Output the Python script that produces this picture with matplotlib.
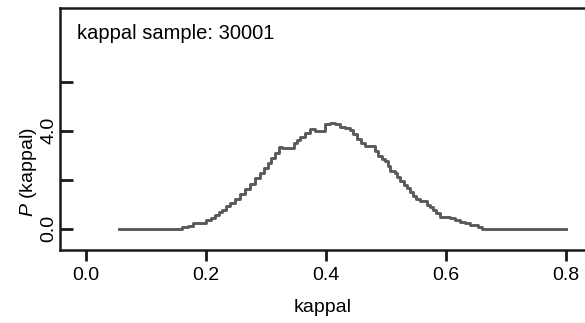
import matplotlib
matplotlib.use("Agg")
import matplotlib.pyplot as plt

plt.rcParams['font.family'] = ['Liberation Sans', 'DejaVu Sans']
plt.rcParams['mathtext.fontset'] = 'custom'
plt.rcParams['mathtext.it'] = 'Liberation Sans:italic'
plt.rcParams['mathtext.rm'] = 'Liberation Sans'

# posterior sample histogram (step outline)
kappa = [0.055, 0.100, 0.158, 0.160, 0.170, 0.178, 0.190, 0.200, 0.208, 0.215,
         0.222, 0.227, 0.234, 0.240, 0.248, 0.257, 0.265, 0.273, 0.282, 0.290,
         0.297, 0.303, 0.309, 0.315, 0.322, 0.327, 0.333, 0.340, 0.347, 0.352,
         0.357, 0.365, 0.373, 0.382, 0.390, 0.398, 0.407, 0.415, 0.423, 0.432,
         0.440, 0.446, 0.452, 0.458, 0.465, 0.477, 0.482, 0.487, 0.493, 0.498,
         0.503, 0.507, 0.515, 0.519, 0.523, 0.530, 0.535, 0.540, 0.545, 0.551,
         0.557, 0.568, 0.573, 0.578, 0.584, 0.590, 0.607, 0.615, 0.623, 0.632,
         0.640, 0.653, 0.660, 0.800]
density = [0.00, 0.00, 0.00, 0.08, 0.10, 0.22, 0.25, 0.37, 0.45, 0.57,
           0.68, 0.78, 0.92, 1.04, 1.22, 1.40, 1.60, 1.81, 2.05, 2.28,
           2.48, 2.69, 2.90, 3.10, 3.35, 3.31, 3.31, 3.31, 3.50, 3.60,
           3.72, 3.90, 4.07, 4.00, 4.00, 4.27, 4.30, 4.27, 4.14, 4.10,
           4.03, 3.85, 3.66, 3.50, 3.38, 3.38, 3.15, 2.97, 2.85, 2.76,
           2.55, 2.35, 2.28, 2.10, 1.94, 1.80, 1.64, 1.48, 1.32, 1.20,
           1.11, 0.98, 0.88, 0.77, 0.62, 0.49, 0.45, 0.36, 0.29, 0.22,
           0.15, 0.08, 0.00, 0.00]

x_ticks = [0.0, 0.2, 0.4, 0.6, 0.8]
y_major = [0.0, 4.0]
y_minor = [2.0, 6.0]

FS = 14

fig = plt.figure(figsize=(5.85, 3.23), dpi=100)
ax = fig.add_axes([60.5 / 585, 73 / 323, 524.5 / 585, 242 / 323])

ax.plot(kappa, density, drawstyle='steps-post', color='#5a5a5a', linewidth=2.1)

ax.set_xlim(-0.0425, 0.832)
ax.set_ylim(-0.87, 9.0)

ax.set_xticks(x_ticks)
ax.set_xticklabels(['%.1f' % t for t in x_ticks])
ax.set_yticks(y_major)
ax.set_yticklabels(['%.1f' % t for t in y_major], rotation=90, va='center')
ax.set_yticks(y_minor, minor=True)

for s in ['left', 'bottom', 'top']:
    ax.spines[s].set_linewidth(1.8)
    ax.spines[s].set_color('#1a1a1a')
ax.spines['right'].set_visible(False)

ax.tick_params(axis='x', direction='out', length=8, width=2, pad=4,
               labelsize=FS, color='#1a1a1a')
ax.tick_params(axis='y', which='both', direction='in', length=9.5, width=2,
               pad=2, labelsize=FS, color='#1a1a1a')

ax.set_xlabel('kappal', fontsize=FS, labelpad=11)
ax.set_ylabel(r'$P$ (kappal)', fontsize=FS)
ax.yaxis.set_label_coords(-0.041, 0.322)

ax.text(0.031, 0.935, 'kappal sample: 30001', transform=ax.transAxes,
        fontsize=14.5, va='top', ha='left')

fig.savefig('out.png', dpi=100)
